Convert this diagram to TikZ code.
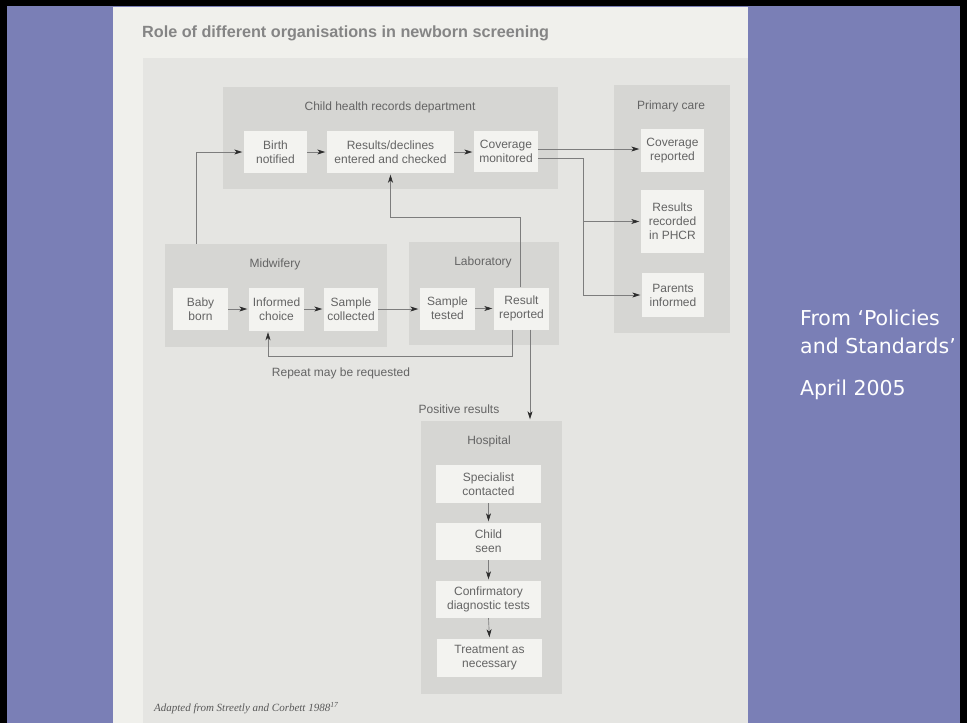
\documentclass[tikz,border=0pt]{standalone}
\usepackage{fontspec}
\setmainfont{Liberation Sans}
\newfontfamily\slidefont{DejaVu Sans}
\newfontfamily\capfont{Liberation Serif}
\usetikzlibrary{arrows.meta}
\definecolor{slidebg}{RGB}{122,127,182}
\definecolor{pagebg}{RGB}{240,240,236}
\definecolor{panelbg}{RGB}{229,229,226}
\definecolor{orgbg}{RGB}{214,214,211}
\definecolor{boxbg}{RGB}{243,243,240}
\definecolor{txtgray}{RGB}{100,100,100}
\definecolor{linegray}{RGB}{125,125,125}
\definecolor{tipgray}{RGB}{45,45,45}
\tikzset{
  orgbox/.style={fill=orgbg, draw=none, inner sep=0pt},
  ibox/.style={fill=boxbg, draw=none, inner sep=0pt, align=center, text=txtgray,
    font=\fontsize{12}{14}\selectfont},
  orgtitle/.style={text=txtgray, font=\fontsize{12}{14}\selectfont, inner sep=0pt},
  conn/.style={draw=linegray, line width=0.65pt,
    -{Stealth[length=8pt,width=5pt,inset=2.2pt,color=tipgray]}, shorten >=1.5pt},
  plainline/.style={draw=linegray, line width=0.65pt},
  slidetext/.style={anchor=west, inner sep=0pt, text=white, font=\slidefont\fontsize{20.5}{24}\selectfont}
}
\begin{document}
\begin{tikzpicture}[x=1pt,y=-1pt]
\useasboundingbox (0,0) rectangle (967,723);
% slide background and frame
\fill[slidebg] (0,0) rectangle (967,723);
\fill[black] (0,0) rectangle (967,6);
\fill[black] (0,0) rectangle (7,723);
\fill[black] (960,0) rectangle (967,723);
% page
\fill[pagebg] (113,7) rectangle (748,723);
\fill[panelbg] (143,58) rectangle (748,723);
\node[anchor=west, text=black!48, font=\fontsize{16.2}{18}\bfseries\selectfont, inner sep=0pt] (title) at (142,33) {Role of different organisations in newborn screening};

% organisation boxes
\node[orgbox, minimum width=335, minimum height=102] (chrd) at (390.5,138) {};
\node[orgbox, minimum width=116, minimum height=248] (prim) at (672,209) {};
\node[orgbox, minimum width=222, minimum height=103] (midw) at (276,295.5) {};
\node[orgbox, minimum width=150, minimum height=103] (lab) at (484,293.5) {};
\node[orgbox, minimum width=141, minimum height=273] (hosp) at (491.5,557.5) {};

\node[orgtitle] (chrdt) at (390,107) {Child health records department};
\node[orgtitle] (primt) at (671,106) {Primary care};
\node[orgtitle] (midwt) at (275,264) {Midwifery};
\node[orgtitle] (labt) at (483,262) {Laboratory};
\node[orgtitle] (hospt) at (489,441) {Hospital};

% inner boxes
\node[ibox, minimum width=63, minimum height=42] (birth) at (275.5,152) {Birth\\notified};
\node[ibox, minimum width=127, minimum height=42] (results) at (390.5,152) {Results/declines\\entered and checked};
\node[ibox, minimum width=64, minimum height=41] (covmon) at (506,151.5) {Coverage\\monitored};
\node[ibox, minimum width=63, minimum height=43] (covrep) at (672.5,150.5) {Coverage\\reported};
\node[ibox, minimum width=63, minimum height=63] (phcr) at (672.5,221.5) {Results\\recorded\\in PHCR};
\node[ibox, minimum width=62, minimum height=44] (parents) at (673,295) {Parents\\informed};
\node[ibox, minimum width=55, minimum height=42] (baby) at (200.5,309) {Baby\\born};
\node[ibox, minimum width=55, minimum height=43] (choice) at (276.5,309) {Informed\\choice};
\node[ibox, minimum width=54, minimum height=43] (sampcol) at (351,309) {Sample\\collected};
\node[ibox, minimum width=55, minimum height=42] (samptest) at (447.5,308.5) {Sample\\tested};
\node[ibox, minimum width=55, minimum height=42] (resrep) at (521.5,308.5) {Result\\reported};
\node[ibox, minimum width=105, minimum height=38] (spec) at (488.5,484) {Specialist\\contacted};
\node[ibox, minimum width=105, minimum height=37] (seen) at (488.5,541.5) {Child\\seen};
\node[ibox, minimum width=105, minimum height=37] (conf) at (488.5,599.5) {Confirmatory\\diagnostic tests};
\node[ibox, minimum width=105, minimum height=38] (treat) at (489.5,658) {Treatment as\\necessary};

% labels
\node[orgtitle] (repeat) at (341,373) {Repeat may be requested};
\node[orgtitle] (positive) at (459,409) {Positive results};
\node[anchor=west, inner sep=0pt, text=black!65, font=\capfont\itshape\fontsize{11}{13}\selectfont] (credit) at (154,708) {Adapted from Streetly and Corbett 1988\textsuperscript{17}};

% connectors: child health records
\draw[conn] ([xshift=32pt]midw.north west) |- (birth.west);
\draw[conn] (birth.east) -- (results.west);
\draw[conn] (results.east) -- (results.east -| covmon.west);
\draw[conn] ([yshift=2.5pt]covmon.east) -- ([yshift=2.5pt]covmon.east -| covrep.west);
\coordinate (jn) at (583,295);
\draw[plainline] ([yshift=-7pt]covmon.east) -| (jn);
\draw[conn] (jn) -- (parents.west);
\draw[conn] (phcr.west -| jn) -- (phcr.west);
\draw[conn] ([xshift=-1.5pt]resrep.north) |- ([yshift=-44pt]results.south) -- (results.south);

% midwifery / laboratory
\draw[conn] (baby.east) -- (choice.west);
\draw[conn] (choice.east) -- (sampcol.west);
\draw[conn] (sampcol.east) -- (sampcol.east -| samptest.west);
\draw[conn] (samptest.east) -- (resrep.west);
\draw[conn] ([xshift=-9.5pt]resrep.south) |- ([xshift=-8.5pt,yshift=-26pt]choice.south) -- ([xshift=-8.5pt]choice.south);
\draw[conn] ([xshift=8.5pt]resrep.south) -- ([xshift=8.5pt]resrep.south |- hosp.north);

% hospital
\draw[conn] (spec.south) -- (seen.north);
\draw[conn] (seen.south) -- (conf.north);
\draw[conn] (conf.south) -- (treat.north);

% slide note
\node[slidetext] (from1) at (800,318) {From ‘Policies};
\node[slidetext] (from2) at (800,346) {and Standards’};
\node[slidetext] (from3) at (800,390) {April 2005};
\end{tikzpicture}
\end{document}
